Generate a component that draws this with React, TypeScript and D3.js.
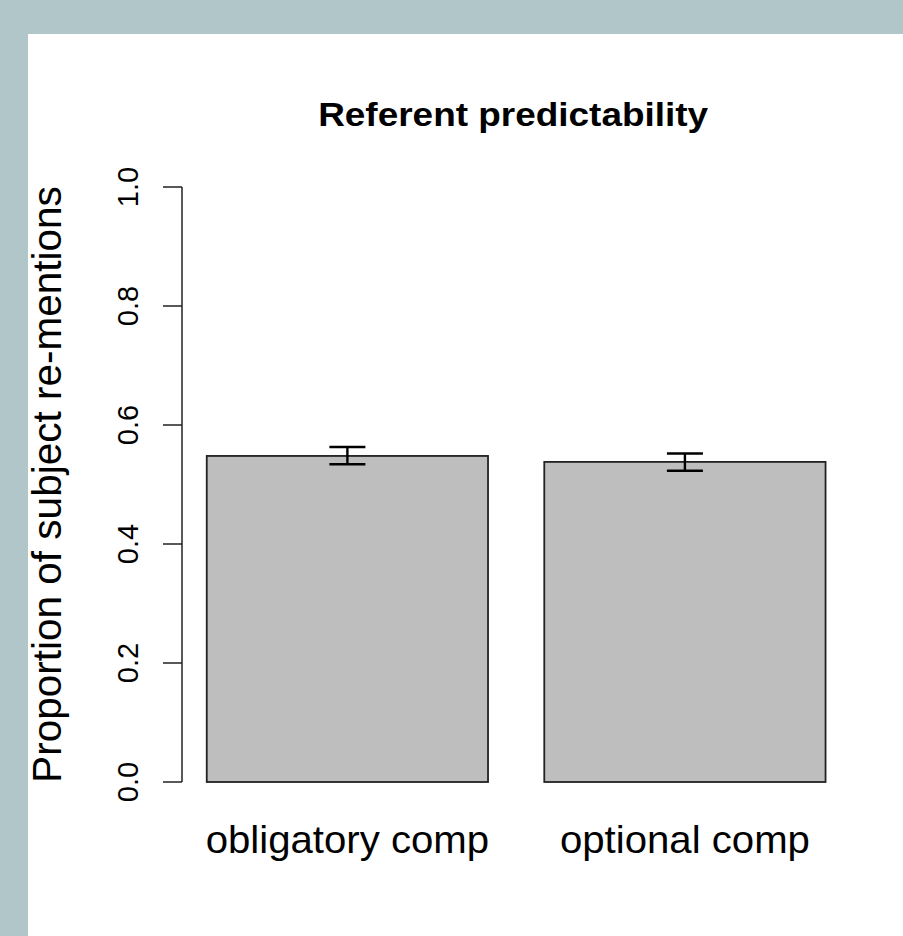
import React from "react";
import * as d3 from "d3";

const categories = ["obligatory comp", "optional comp"];
const means = [0.548, 0.538];
const upper = [0.563, 0.552];
const lower = [0.534, 0.523];
const yTicks = [0, 0.2, 0.4, 0.6, 0.8, 1.0];
const title = "Referent predictability";
const yLabel = "Proportion of subject re-mentions";

const W = 903;
const H = 936;
const FONT = "'Liberation Sans', Arial, Helvetica, sans-serif";

export default function App() {
  // R barplot geometry: width 1, space 0.2
  const barW = 1;
  const space = 0.2;
  const lefts = categories.map((_, i) => space + i * (barW + space));
  const rights = lefts.map((l) => l + barW);
  const xmin = d3.min(lefts)!;
  const xmax = d3.max(rights)!;
  const ext = (xmax - xmin) * 0.04;
  const x = d3.scaleLinear().domain([xmin - ext, xmax + ext]).range([182, 850.3]);
  const y = d3.scaleLinear().domain([0, 1]).range([782, 187]);
  const axisX = x(xmin - ext);
  const plotCenter = (x.range()[0] + x.range()[1]) / 2;

  return (
    <svg
      width={W}
      height={H}
      style={{ position: "absolute", left: 0, top: 0, display: "block" }}
      fontFamily={FONT}
    >
      <rect x={0} y={0} width={W} height={H} fill="#b0c6c9" />
      <rect x={28} y={34} width={W - 28} height={H - 34} fill="#ffffff" />

      <g transform={`translate(${plotCenter - 3}, 126) scale(1.12, 1)`}>
        <text x={0} y={0} textAnchor="middle" fontWeight="bold" fontSize={33} fill="#000">
          {title}
        </text>
      </g>

      {categories.map((c, i) => {
        const x0 = x(lefts[i]);
        const x1 = x(rights[i]);
        const cx = (x0 + x1) / 2;
        return (
          <g key={c}>
            <rect
              x={x0}
              y={y(means[i])}
              width={x1 - x0}
              height={y(0) - y(means[i])}
              fill="#bebebe"
              stroke="#222"
              strokeWidth={1.8}
            />
            <line x1={cx} x2={cx} y1={y(upper[i])} y2={y(lower[i])} stroke="#000" strokeWidth={2.4} />
            <line x1={cx - 18} x2={cx + 18} y1={y(upper[i])} y2={y(upper[i])} stroke="#000" strokeWidth={2.4} />
            <line x1={cx - 18} x2={cx + 18} y1={y(lower[i])} y2={y(lower[i])} stroke="#000" strokeWidth={2.4} />
            <g transform={`translate(${cx}, 853) scale(1.03, 1)`}>
              <text x={0} y={0} textAnchor="middle" fontSize={39} fill="#000">
                {c}
              </text>
            </g>
          </g>
        );
      })}

      <line x1={axisX} x2={axisX} y1={y(1)} y2={y(0)} stroke="#222" strokeWidth={1.5} />
      {yTicks.map((t) => (
        <g key={t}>
          <line x1={axisX - 19} x2={axisX} y1={y(t)} y2={y(t)} stroke="#222" strokeWidth={1.5} />
          <text
            transform={`translate(137.5, ${y(t)}) rotate(-90)`}
            textAnchor="middle"
            fontSize={29}
            fill="#000"
          >
            {d3.format(".1f")(t)}
          </text>
        </g>
      ))}

      <text
        transform={`translate(61, ${(y(0) + y(1)) / 2}) rotate(-90)`}
        textAnchor="middle"
        fontSize={40.5}
        fill="#000"
      >
        {yLabel}
      </text>
    </svg>
  );
}
